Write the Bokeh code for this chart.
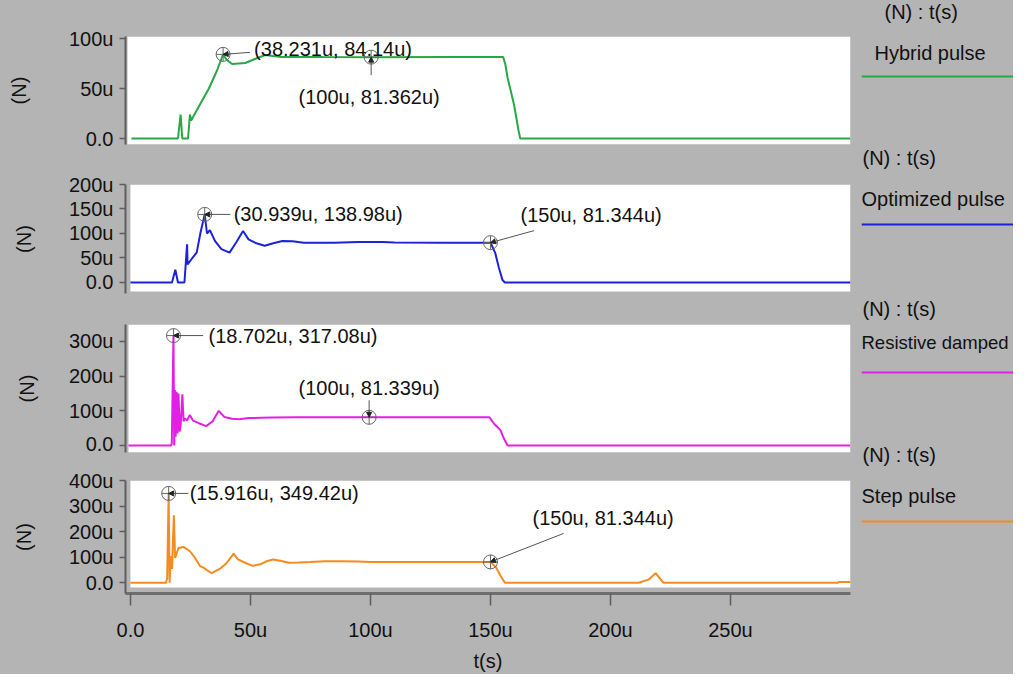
from bokeh.plotting import figure
from bokeh.layouts import column, row
from bokeh.models import (FixedTicker, BoxAnnotation, Label, Arrow, NormalHead,
                          Span, Range1d)
from bokeh.embed import file_html
from bokeh.resources import INLINE

# ---------------- data (time in us, force in uN) ----------------
hybrid_t = [0, 19.4, 20.5, 21.2, 23.6, 24.4, 24.9, 28.8, 32.3, 35.7, 38.231, 39.3, 40.6, 42,
            47.5, 51.5, 55.8, 59, 62.7, 80, 100, 130, 155.1, 156, 156.9, 159.6, 161.5, 162.2, 300]
hybrid_f = [0, 0, 24, 0, 0, 24, 18, 35, 50, 68, 84.14, 80, 77, 74.5,
            75.5, 79.5, 83.5, 82.5, 81.5, 81.4, 81.362, 81.4, 81.4, 74, 61, 34, 8, 0, 0]

optimized_t = [0, 17.3, 18.7, 19.8, 22.5, 23.6, 23.8, 25.5, 27.6, 29.2, 30.939, 31.9, 33.1, 35.2,
               37.9, 41.3, 44.1, 46.9, 49.2, 52.5, 55.9, 59.5, 63.3, 67.5, 72.2, 85, 95, 105, 110,
               130, 150, 152, 153.5, 155, 156, 300]
optimized_f = [0, 0, 26, 0, 0, 78, 37, 48, 61, 102, 138.98, 100, 107, 85,
               68, 61, 82, 105, 88, 80, 75, 80, 84.5, 84, 81.3, 81.3, 82.5, 82.5, 81.4,
               81.3, 81.344, 60, 30, 5, 0, 0]

resistive_t = [0, 17.6, 18.0, 18.702, 19.0, 19.3, 19.6, 20.0, 20.4, 20.8, 21.3, 21.7, 22.4, 22.9,
               23.4, 24.3, 25.5, 26.8, 29, 32.3, 35, 37.5, 39.9, 43, 46, 50, 55, 60, 70, 100,
               150, 152, 154.5, 156, 157.5, 300]
resistive_f = [0, 0, 5, 317.08, 0, 160, 25, 155, 35, 150, 40, 60, 148, 70,
               78, 72, 88, 72, 65, 56, 70, 100, 82, 77, 76, 79, 80, 81, 81.3, 81.339,
               81.3, 62, 45, 20, 0, 0]

step_t = [0, 14.8, 15.3, 15.916, 16.3, 16.8, 17.3, 18.1, 18.6, 20.0, 22.1, 24.8, 26.9, 29.0,
          30.4, 33.8, 37.2, 40.0, 43.0, 44.8, 48.2, 51.0, 54, 57, 59.5, 63, 66, 70, 75, 81,
          88, 95, 100, 120, 150, 152.3, 154, 156, 211.7, 215.8, 218.8, 222, 294.6, 295.5, 300]
step_f = [0, 0, 18, 349.42, 0, 104, 54, 264, 97, 136, 140, 123, 97, 65,
          59, 37, 54, 76, 114, 91, 76, 66, 72, 85, 91, 85, 78, 79, 81, 84,
          84, 83, 81.4, 81.3, 81.344, 60, 30, 0, 0, 12, 37, 0, 0, 3, 3]

series_names = ["Hybrid pulse", "Optimized pulse", "Resistive damped", "Step pulse"]
series_colors = ["#27a846", "#1b22d8", "#e41fe4", "#f58a1f"]

# marked points (time, value) per panel
marks = [
    [(38.231, 84.14), (100, 81.362)],
    [(30.939, 138.98), (150, 81.344)],
    [(18.702, 317.08), (100, 81.339)],
    [(15.916, 349.42), (150, 81.344)],
]

y_ticks = [[0, 50, 100], [0, 50, 100, 150, 200], [0, 100, 200, 300], [0, 100, 200, 300, 400]]
y_tick_labels = [["0.0", "50u", "100u"], ["0.0", "50u", "100u", "150u", "200u"],
                 ["0.0", "100u", "200u", "300u"], ["0.0", "100u", "200u", "300u", "400u"]]
x_ticks = [0, 50, 100, 150, 200, 250]
x_tick_labels = ["0.0", "50u", "100u", "150u", "200u", "250u"]
x_end = 300

# ---------------- styling / layout ----------------
GRAY = "#b4b4b4"
FONT = "Liberation Sans"
AXIS_COL = "#5e5e5e"

panel_layout = [
    dict(h=162, mbt=36, mbb=18, mbl=125, mbr=0, xs=-2.49, wl=-1.66, yr=(-6, 102), wb=None, so=36),
    dict(h=140, mbt=22, mbb=9, mbl=120, mbr=0, xs=-2.06, wl=0, yr=(-22.45, 200), wb=-18.4, so=31),
    dict(h=152, mbt=22, mbb=2, mbl=117, mbr=3, xs=-1.23, wl=0, yr=(-20.2, 349), wb=None, so=28),
    dict(h=220, mbt=26, mbb=79, mbl=120, mbr=0, xs=-2.06, wl=0, yr=(-42.3, 400), wb=-19.2, so=31),
]

# annotation label offsets (px) and leader start offsets (px) relative to marker
ann_style = [
    [dict(dx=31, dy=5, align="left", sdx=27, sdy=2), dict(dx=-2, dy=-40, align="center", sdx=0, sdy=-18)],
    [dict(dx=29, dy=0, align="left", sdx=26, sdy=0), dict(dx=30, dy=28, align="left", sdx=44, sdy=12)],
    [dict(dx=35, dy=0, align="left", sdx=30, sdy=0), dict(dx=0, dy=29, align="center", sdx=0, sdy=17)],
    [dict(dx=21, dy=0, align="left", sdx=20, sdy=0), dict(dx=42, dy=44, align="left", sdx=74, sdy=29)],
]

data = [(hybrid_t, hybrid_f), (optimized_t, optimized_f), (resistive_t, resistive_f), (step_t, step_f)]
FIG_W = 853


def fmt(v):
    return ("%g" % v) + "u"


panels = []
for i, ((t, f), lay) in enumerate(zip(data, panel_layout)):
    last = (i == 3)
    p = figure(width=FIG_W, height=lay["h"], x_range=Range1d(lay["xs"], x_end),
               y_range=Range1d(*lay["yr"]), toolbar_location=None, output_backend="svg",
               x_axis_location="below" if last else None,
               min_border_top=lay["mbt"], min_border_bottom=lay["mbb"],
               min_border_left=lay["mbl"], min_border_right=lay["mbr"],
               background_fill_color=GRAY, border_fill_color=GRAY, outline_line_color=None,
               styles={"background-color": GRAY})
    p.grid.visible = False

    box_kw = dict(left=lay["wl"], fill_color="white", fill_alpha=1, line_color=None, level="underlay")
    if lay["wb"] is not None:
        box_kw["bottom"] = lay["wb"]
    p.add_layout(BoxAnnotation(**box_kw))

    p.line(t, f, line_color=series_colors[i], line_width=2)

    ya = p.yaxis[0]
    ya.ticker = FixedTicker(ticks=y_ticks[i])
    ya.major_label_overrides = dict(zip(y_ticks[i], y_tick_labels[i]))
    ya.minor_tick_line_color = None
    ya.major_tick_in = 0
    ya.major_tick_out = 6
    ya.major_tick_line_color = AXIS_COL
    ya.major_tick_line_width = 1.5
    ya.axis_line_color = AXIS_COL
    ya.axis_line_width = 2
    ya.major_label_standoff = 6
    ya.major_label_text_font = FONT
    ya.major_label_text_font_size = "20px"
    ya.major_label_text_color = "#111111"
    ya.axis_label = "(N)"
    ya.axis_label_text_font = FONT
    ya.axis_label_text_font_size = "20px"
    ya.axis_label_text_font_style = "normal"
    ya.axis_label_text_color = "#111111"
    ya.axis_label_standoff = lay["so"]

    if last:
        xa = p.xaxis[0]
        xa.ticker = FixedTicker(ticks=x_ticks)
        xa.major_label_overrides = dict(zip(x_ticks, x_tick_labels))
        xa.minor_tick_line_color = None
        xa.major_tick_in = 0
        xa.major_tick_out = 12
        xa.major_tick_line_color = AXIS_COL
        xa.major_tick_line_width = 1.5
        xa.axis_line_color = "#6e6e6e"
        xa.axis_line_width = 3
        xa.major_label_standoff = 13
        xa.major_label_text_font = FONT
        xa.major_label_text_font_size = "20px"
        xa.major_label_text_color = "#111111"
        xa.axis_label = "t(s)"
        xa.axis_label_text_font = FONT
        xa.axis_label_text_font_size = "20px"
        xa.axis_label_text_font_style = "normal"
        xa.axis_label_text_color = "#111111"
        xa.axis_label_standoff = 6

    fw = FIG_W - lay["mbl"] - lay["mbr"]
    fh = lay["h"] - lay["mbt"] - lay["mbb"]
    sx = fw / (x_end - lay["xs"])
    sy = fh / (lay["yr"][1] - lay["yr"][0])

    mt = [m[0] for m in marks[i]]
    mf = [m[1] for m in marks[i]]
    for (mx, my), st in zip(marks[i], ann_style[i]):
        p.add_layout(Arrow(end=NormalHead(size=5, fill_color="#222222", line_color="#222222", line_width=1),
                           x_start=mx + st["sdx"] / sx, y_start=my + st["sdy"] / sy,
                           x_end=mx, y_end=my, line_color="#555555", line_width=1))
        p.add_layout(Label(x=mx, y=my, x_offset=st["dx"], y_offset=st["dy"],
                           text="(%s, %s)" % (fmt(mx), fmt(my)), text_font=FONT,
                           text_font_size="20px", text_color="#111111",
                           text_align=st["align"], text_baseline="middle"))
    p.scatter(mt, mf, marker="circle_cross", size=14, fill_color=None,
              line_color="#666666", line_width=1)
    panels.append(p)

# ---------------- legend column ----------------
LEG_W = 160
TOTAL_H = sum(l["h"] for l in panel_layout)
leg = figure(width=LEG_W, height=TOTAL_H, x_range=Range1d(869, 1021), y_range=Range1d(682, 8),
             toolbar_location=None, output_backend="svg", x_axis_location=None, y_axis_location=None,
             min_border_top=0, min_border_bottom=0, min_border_left=8, min_border_right=0,
             background_fill_color=GRAY, border_fill_color=GRAY, outline_line_color=None,
             styles={"background-color": GRAY})
leg.grid.visible = False

leg_title_pos = [(892, 19), (870, 165), (870, 316), (870, 462)]
leg_name_pos = [(882, 60), (869, 206), (869, 350), (869, 503)]
leg_line_y = [84, 232, 380, 529]
leg_name_size = ["20px", "20px", "18.5px", "20px"]
for name, color, tp, npos, ly, fs in zip(series_names, series_colors, leg_title_pos,
                                          leg_name_pos, leg_line_y, leg_name_size):
    leg.add_layout(Label(x=tp[0], y=tp[1], text="(N) : t(s)", text_font=FONT, text_font_size="20px",
                         text_color="#111111", text_baseline="middle", text_align="left"))
    leg.add_layout(Label(x=npos[0], y=npos[1], text=name, text_font=FONT, text_font_size=fs,
                         text_color="#111111", text_baseline="middle", text_align="left"))
    leg.add_layout(Span(location=ly, dimension="width", line_color=color, line_width=2))

layout = row(column(*panels, spacing=0, styles={"background-color": GRAY}), leg, spacing=0,
             styles={"background-color": GRAY})
open("out.html", "w").write(file_html(layout, INLINE))
